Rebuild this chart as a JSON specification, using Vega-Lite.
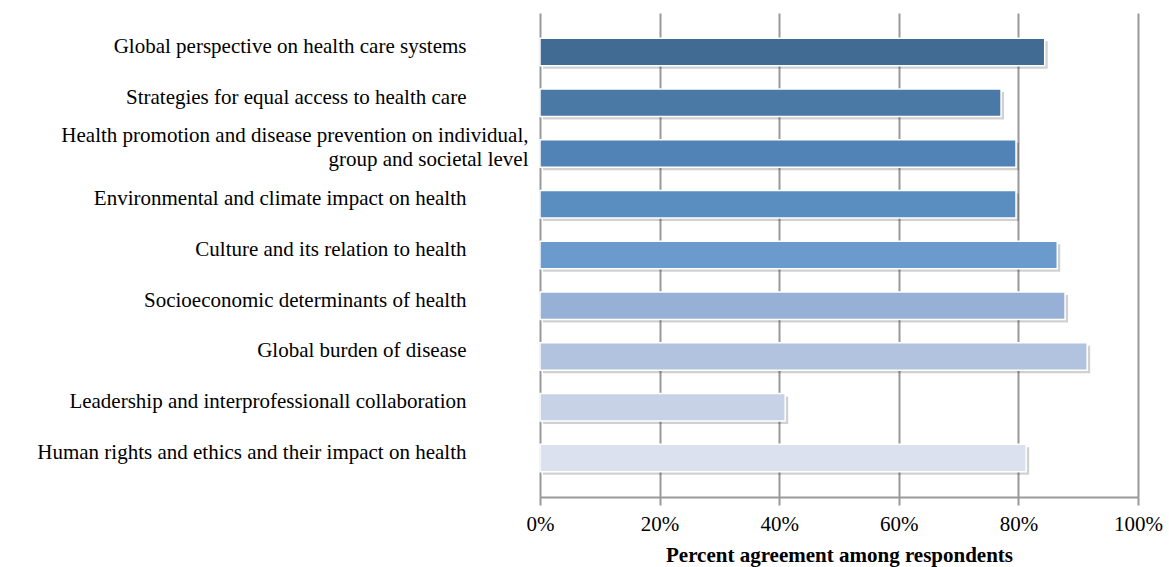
{
  "$schema": "https://vega.github.io/schema/vega-lite/v6.json",
  "autosize": "none",
  "padding": {"left": 540, "top": 13, "right": 31, "bottom": 70},
  "width": 598,
  "height": 484,
  "background": "white",
  "config": {"view": {"stroke": null}},
  "data": {"values": [
    {"topic": "Global perspective on health care systems", "pct": 84.4},
    {"topic": "Strategies for equal access to health care", "pct": 77.1},
    {"topic": "Health promotion and disease prevention on individual,|group and societal level", "pct": 79.6},
    {"topic": "Environmental and climate impact on health", "pct": 79.6},
    {"topic": "Culture and its relation to health", "pct": 86.5},
    {"topic": "Socioeconomic determinants of health", "pct": 87.8},
    {"topic": "Global burden of disease", "pct": 91.5},
    {"topic": "Leadership and interprofessionall collaboration", "pct": 41.0},
    {"topic": "Human rights and ethics and their impact on health", "pct": 81.3}
  ]},
  "encoding": {
    "y": {
      "field": "topic", "type": "nominal", "sort": null,
      "scale": {"paddingInner": 0.46, "paddingOuter": 0.5},
      "axis": {
        "title": null, "domain": false, "ticks": false,
        "labelFont": "Liberation Serif", "labelFontSize": 21, "labelColor": "#000",
        "labelAlign": "right", "labelLimit": 0,
        "labelExpr": "split(datum.label, '|')",
        "labelLineHeight": 24,
        "labelOffset": {"condition": {"test": "indexof(datum.value, 'Health promotion') == 0", "value": -18}, "value": -5},
        "labelPadding": {"condition": {"test": "indexof(datum.value, 'Health promotion') == 0", "value": 12}, "value": 74}
      }
    },
    "x": {
      "field": "pct", "type": "quantitative",
      "scale": {"domain": [0, 100]},
      "axis": {
        "values": [0, 20, 40, 60, 80, 100],
        "labelExpr": "datum.value + '%'",
        "labelFlush": false,
        "labelOverlap": false,
        "title": "Percent agreement among respondents",
        "titleFont": "Liberation Serif", "titleFontSize": 21, "titleFontWeight": "bold", "titleColor": "#000",
        "titlePadding": 10,
        "labelFont": "Liberation Serif", "labelFontSize": 21, "labelColor": "#000",
        "labelPadding": 8,
        "grid": true, "gridColor": "#999999", "gridWidth": 2,
        "domainColor": "#999999", "domainWidth": 2,
        "tickColor": "#999999", "tickWidth": 2, "tickSize": 8
      }
    }
  },
  "layer": [
    {
      "mark": {"type": "bar", "color": "#000", "opacity": 0.18, "xOffset": 3, "yOffset": 3}
    },
    {
      "mark": {"type": "bar", "stroke": "white", "strokeWidth": 1.5},
      "encoding": {
        "color": {
          "field": "topic", "type": "nominal", "legend": null,
          "scale": {
            "domain": [
              "Global perspective on health care systems",
              "Strategies for equal access to health care",
              "Health promotion and disease prevention on individual,|group and societal level",
              "Environmental and climate impact on health",
              "Culture and its relation to health",
              "Socioeconomic determinants of health",
              "Global burden of disease",
              "Leadership and interprofessionall collaboration",
              "Human rights and ethics and their impact on health"
            ],
            "range": ["#416B92", "#4A79A6", "#5183B6", "#5A8EC1", "#6B9BCC", "#97B0D6", "#B2C3DF", "#C8D2E6", "#DBE1EE"]
          }
        }
      }
    }
  ]
}
